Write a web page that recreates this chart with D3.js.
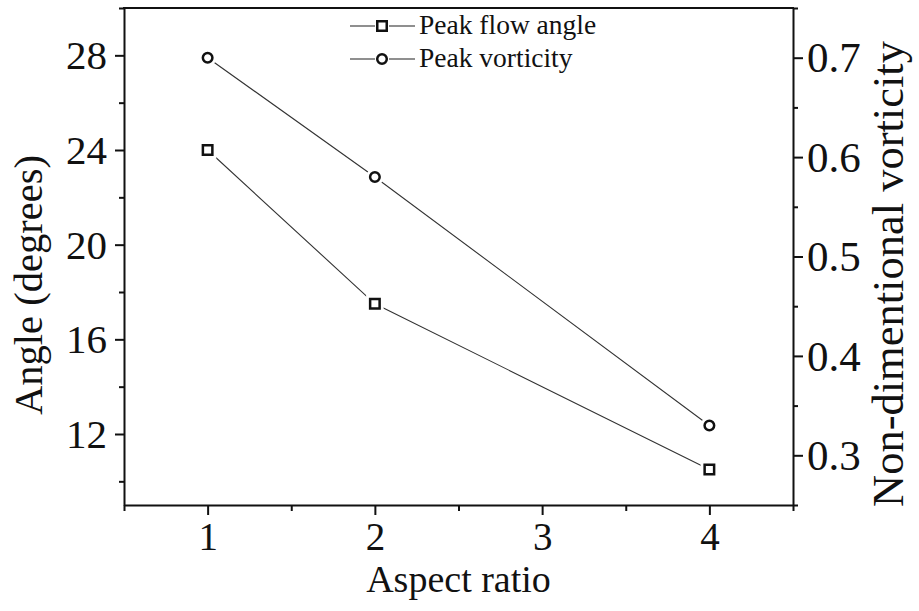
<!DOCTYPE html>
<html>
<head>
<meta charset="utf-8">
<script src="https://cdn.jsdelivr.net/npm/d3@7"></script>
<style>
  html, body { margin: 0; padding: 0; background: #fff; }
  svg { display: block; }
</style>
</head>
<body>
<svg id="chart" width="919" height="611"></svg>
<script>
// ---- data ----
const aspectRatios = [1, 2, 4];
const peakFlowAngle = [24, 17.5, 10.5];
const peakVorticity = [0.70, 0.58, 0.33];
const xTicks = [1, 2, 3, 4];
const xMinorTicks = [0.5, 1.5, 2.5, 3.5, 4.5];
const leftTicks = [12, 16, 20, 24, 28];
const leftMinorTicks = [10, 14, 18, 22, 26, 30];
const rightTicks = [0.3, 0.4, 0.5, 0.6, 0.7];
const rightMinorTicks = [0.25, 0.35, 0.45, 0.55, 0.65, 0.75];
const seriesNames = ["Peak flow angle", "Peak vorticity"];

const FONT = "'Liberation Serif', 'Times New Roman', serif";

// ---- layout ----
const svg = d3.select("#chart");
const L = 124, R = 793, T = 8, B = 505;

const x = d3.scaleLinear().domain([0.5, 4.5]).range([L, R]);
const yL = d3.scaleLinear().domain([9, 30]).range([B, T]);
const yR = d3.scaleLinear().domain([0.25, 0.75]).range([B, T]);

const fmtR = d3.format(".1f");

// minor axes
svg.append("g").attr("transform", `translate(0,${B})`)
  .call(d3.axisBottom(x).tickValues(xMinorTicks).tickSize(6).tickFormat(""))
  .call(g => g.select(".domain").remove());
svg.append("g").attr("transform", `translate(${L},0)`)
  .call(d3.axisLeft(yL).tickValues(leftMinorTicks).tickSize(5).tickFormat(""))
  .call(g => g.select(".domain").remove());
svg.append("g").attr("transform", `translate(${R},0)`)
  .call(d3.axisRight(yR).tickValues(rightMinorTicks).tickSize(5).tickFormat(""))
  .call(g => g.select(".domain").remove());

// major axes
const gx = svg.append("g").attr("transform", `translate(0,${B})`)
  .call(d3.axisBottom(x).tickValues(xTicks).tickSize(10).tickSizeOuter(0).tickFormat(d3.format("d")));
gx.selectAll("text").attr("y", 45).attr("dy", 0).style("font-size", "39px");

const gl = svg.append("g").attr("transform", `translate(${L},0)`)
  .call(d3.axisLeft(yL).tickValues(leftTicks).tickSize(9).tickSizeOuter(0).tickFormat(d3.format("d")));
gl.selectAll("text").attr("x", -17).attr("dy", "0.33em").style("font-size", "41px");

const gr = svg.append("g").attr("transform", `translate(${R},0)`)
  .call(d3.axisRight(yR).tickValues(rightTicks).tickSize(10).tickSizeOuter(0).tickFormat(fmtR));
gr.selectAll("text").attr("x", 14).attr("dy", "0.33em").style("font-size", "43px");

svg.selectAll("g").attr("font-family", FONT);
svg.selectAll(".tick line").attr("stroke", "#111").attr("stroke-width", 2);
svg.selectAll(".domain").attr("stroke", "#111").attr("stroke-width", 2);

// top frame
svg.append("line").attr("x1", x(0.5) - 1).attr("x2", x(4.5) + 1)
  .attr("y1", yL(30)).attr("y2", yL(30))
  .attr("stroke", "#111").attr("stroke-width", 2);

// axis titles
svg.append("text").attr("x", x(2.5)).attr("y", 592)
  .attr("text-anchor", "middle").style("font-size", "38px").text("Aspect ratio");
svg.append("text").attr("transform", "translate(42,285) rotate(-90)")
  .attr("text-anchor", "middle").style("font-size", "40.5px").text("Angle (degrees)");
svg.append("text").attr("transform", "translate(903,274) rotate(-90)")
  .attr("text-anchor", "middle").style("font-size", "44.5px").text("Non-dimentional vorticity");

// series
const ptsA = aspectRatios.map((d, i) => [x(d), yL(peakFlowAngle[i])]);
const ptsV = aspectRatios.map((d, i) => [x(d), yR(peakVorticity[i])]);
const line = d3.line();

svg.append("path").attr("d", line(ptsA)).attr("fill", "none").attr("stroke", "#333").attr("stroke-width", 1.1);
svg.append("path").attr("d", line(ptsV)).attr("fill", "none").attr("stroke", "#333").attr("stroke-width", 1.1);

const sq = d3.symbol().type(d3.symbolSquare).size(90);
const ci = d3.symbol().type(d3.symbolCircle).size(72);

function markers(pts, sym) {
  const g = svg.append("g");
  g.selectAll(".halo").data(pts).join("path")
    .attr("transform", d => `translate(${d[0]},${d[1]})`)
    .attr("d", sym).attr("fill", "#fff").attr("stroke", "#fff").attr("stroke-width", 8);
  g.selectAll(".mk").data(pts).join("path")
    .attr("transform", d => `translate(${d[0]},${d[1]})`)
    .attr("d", sym).attr("fill", "#fff").attr("stroke", "#111").attr("stroke-width", 2.5);
}
markers(ptsA, sq);
markers(ptsV, ci);

// legend
const legendRows = [
  { name: seriesNames[0], sym: sq, cy: 26, base: 34 },
  { name: seriesNames[1], sym: ci, cy: 59, base: 67 }
];
legendRows.forEach(r => {
  svg.append("line").attr("x1", 350).attr("x2", 375).attr("y1", r.cy).attr("y2", r.cy)
    .attr("stroke", "#333").attr("stroke-width", 1.1);
  svg.append("line").attr("x1", 389).attr("x2", 415).attr("y1", r.cy).attr("y2", r.cy)
    .attr("stroke", "#333").attr("stroke-width", 1.1);
  svg.append("path").attr("transform", `translate(382,${r.cy})`).attr("d", r.sym)
    .attr("fill", "#fff").attr("stroke", "#111").attr("stroke-width", 2.5);
  svg.append("text").attr("x", 419).attr("y", r.base).style("font-size", "27.5px").text(r.name);
});

svg.selectAll("text").attr("fill", "#111").style("font-family", FONT);
</script>
</body>
</html>
